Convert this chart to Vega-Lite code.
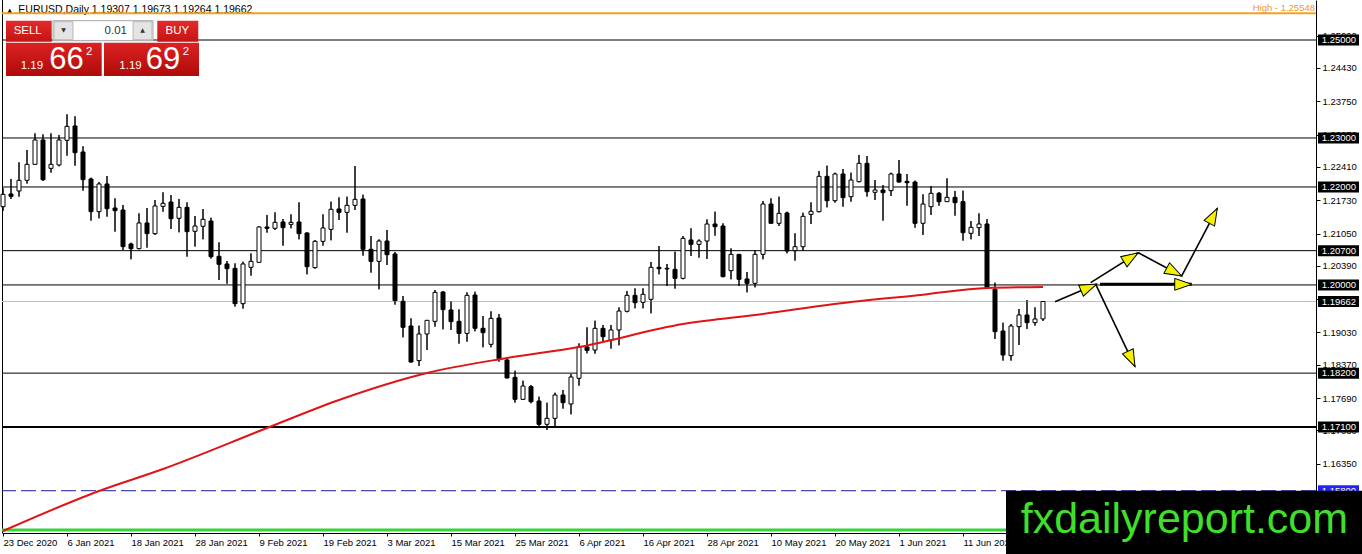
{
  "$schema": "https://vega.github.io/schema/vega-lite/v6.json",
  "width": 1314,
  "height": 533,
  "autosize": "none",
  "padding": {"left": 2, "top": 0, "right": 46, "bottom": 21},
  "background": "white",
  "config": {
    "view": {"stroke": null},
    "font": "Liberation Sans",
    "scale": {"continuousPadding": 0},
    "axis": {"labelOverlap": false, "labelFlush": false, "labelBound": false, "grid": false}
  },
  "datasets": {
    "candles": [
      {"i":0,"o":1.21598,"h":1.21972,"l":1.2151,"c":1.2185},
      {"i":1,"o":1.21857,"h":1.22163,"l":1.21755,"c":1.21809},
      {"i":2,"o":1.21918,"h":1.22503,"l":1.21802,"c":1.22136},
      {"i":3,"o":1.22136,"h":1.22755,"l":1.22068,"c":1.22462},
      {"i":4,"o":1.22462,"h":1.23095,"l":1.22449,"c":1.22959},
      {"i":5,"o":1.22959,"h":1.23074,"l":1.22122,"c":1.22149},
      {"i":6,"o":1.2238,"h":1.23095,"l":1.22292,"c":1.22462},
      {"i":7,"o":1.22449,"h":1.23061,"l":1.22421,"c":1.22959},
      {"i":8,"o":1.22952,"h":1.23483,"l":1.22639,"c":1.23238},
      {"i":9,"o":1.23245,"h":1.23442,"l":1.22435,"c":1.227},
      {"i":10,"o":1.22714,"h":1.2283,"l":1.21925,"c":1.22149},
      {"i":11,"o":1.22163,"h":1.2219,"l":1.21312,"c":1.21496},
      {"i":12,"o":1.21496,"h":1.22102,"l":1.2136,"c":1.22061},
      {"i":13,"o":1.22061,"h":1.22224,"l":1.21394,"c":1.21557},
      {"i":14,"o":1.21571,"h":1.21768,"l":1.21088,"c":1.21516},
      {"i":15,"o":1.2153,"h":1.21632,"l":1.20714,"c":1.20782},
      {"i":16,"o":1.20836,"h":1.20863,"l":1.20523,"c":1.20741},
      {"i":17,"o":1.20741,"h":1.21462,"l":1.20727,"c":1.21265},
      {"i":18,"o":1.21265,"h":1.21571,"l":1.20761,"c":1.21047},
      {"i":19,"o":1.21047,"h":1.21734,"l":1.2102,"c":1.21612},
      {"i":20,"o":1.21605,"h":1.21891,"l":1.21496,"c":1.21666},
      {"i":21,"o":1.21693,"h":1.21836,"l":1.21142,"c":1.21353},
      {"i":22,"o":1.2136,"h":1.21755,"l":1.21074,"c":1.21584},
      {"i":23,"o":1.21584,"h":1.21686,"l":1.20577,"c":1.21088},
      {"i":24,"o":1.21095,"h":1.21408,"l":1.20782,"c":1.21203},
      {"i":25,"o":1.21197,"h":1.2155,"l":1.20931,"c":1.21339},
      {"i":26,"o":1.21305,"h":1.21373,"l":1.20537,"c":1.20577},
      {"i":27,"o":1.20584,"h":1.2087,"l":1.20101,"c":1.20421},
      {"i":28,"o":1.20428,"h":1.20489,"l":1.20026,"c":1.20332},
      {"i":29,"o":1.20339,"h":1.20441,"l":1.19557,"c":1.19618},
      {"i":30,"o":1.19618,"h":1.20475,"l":1.19516,"c":1.20428},
      {"i":31,"o":1.2036,"h":1.20645,"l":1.2019,"c":1.20482},
      {"i":32,"o":1.20462,"h":1.21196,"l":1.20462,"c":1.21183},
      {"i":33,"o":1.21183,"h":1.21428,"l":1.21067,"c":1.21156},
      {"i":34,"o":1.21156,"h":1.21482,"l":1.21122,"c":1.21278},
      {"i":35,"o":1.21285,"h":1.21346,"l":1.20802,"c":1.21169},
      {"i":36,"o":1.21237,"h":1.21442,"l":1.21156,"c":1.21278},
      {"i":37,"o":1.21285,"h":1.21686,"l":1.20931,"c":1.21047},
      {"i":38,"o":1.21061,"h":1.21074,"l":1.20217,"c":1.20373},
      {"i":39,"o":1.20353,"h":1.20918,"l":1.20332,"c":1.2089},
      {"i":40,"o":1.2089,"h":1.21442,"l":1.20802,"c":1.21163},
      {"i":41,"o":1.21135,"h":1.217,"l":1.20911,"c":1.21544},
      {"i":42,"o":1.2155,"h":1.21789,"l":1.21326,"c":1.21482},
      {"i":43,"o":1.21482,"h":1.21802,"l":1.21067,"c":1.21625},
      {"i":44,"o":1.21625,"h":1.22428,"l":1.2153,"c":1.21748},
      {"i":45,"o":1.21754,"h":1.21843,"l":1.20598,"c":1.20727},
      {"i":46,"o":1.20727,"h":1.20999,"l":1.20251,"c":1.20482},
      {"i":47,"o":1.20482,"h":1.20931,"l":1.19911,"c":1.20897},
      {"i":48,"o":1.20897,"h":1.21122,"l":1.20407,"c":1.20618},
      {"i":49,"o":1.20632,"h":1.20673,"l":1.19598,"c":1.19679},
      {"i":50,"o":1.19666,"h":1.19775,"l":1.18931,"c":1.19135},
      {"i":51,"o":1.19162,"h":1.19319,"l":1.18414,"c":1.18427},
      {"i":52,"o":1.18455,"h":1.19169,"l":1.18346,"c":1.18999},
      {"i":53,"o":1.18999,"h":1.19285,"l":1.18672,"c":1.19278},
      {"i":54,"o":1.19257,"h":1.19897,"l":1.19149,"c":1.19849},
      {"i":55,"o":1.19856,"h":1.19877,"l":1.19094,"c":1.19496},
      {"i":56,"o":1.19489,"h":1.19666,"l":1.19081,"c":1.19251},
      {"i":57,"o":1.19257,"h":1.19502,"l":1.18802,"c":1.19012},
      {"i":58,"o":1.19012,"h":1.19849,"l":1.18842,"c":1.19788},
      {"i":59,"o":1.19795,"h":1.19863,"l":1.19053,"c":1.19115},
      {"i":60,"o":1.19115,"h":1.19366,"l":1.18727,"c":1.19026},
      {"i":61,"o":1.18788,"h":1.19462,"l":1.18727,"c":1.19319},
      {"i":62,"o":1.19325,"h":1.19407,"l":1.18434,"c":1.18495},
      {"i":63,"o":1.18468,"h":1.18523,"l":1.18094,"c":1.18101},
      {"i":64,"o":1.18114,"h":1.1825,"l":1.17597,"c":1.17665},
      {"i":65,"o":1.17665,"h":1.18046,"l":1.17652,"c":1.17937},
      {"i":66,"o":1.17924,"h":1.17958,"l":1.17584,"c":1.17618},
      {"i":67,"o":1.17631,"h":1.1772,"l":1.17121,"c":1.17155},
      {"i":68,"o":1.17155,"h":1.17597,"l":1.17039,"c":1.17277},
      {"i":69,"o":1.17277,"h":1.17801,"l":1.17107,"c":1.17754},
      {"i":70,"o":1.17754,"h":1.17856,"l":1.17475,"c":1.17597},
      {"i":71,"o":1.1757,"h":1.18182,"l":1.17359,"c":1.18121},
      {"i":72,"o":1.18094,"h":1.18808,"l":1.17944,"c":1.1874},
      {"i":73,"o":1.18734,"h":1.19135,"l":1.18604,"c":1.18665},
      {"i":74,"o":1.18672,"h":1.19271,"l":1.18597,"c":1.19114},
      {"i":75,"o":1.19114,"h":1.19183,"l":1.18836,"c":1.18944},
      {"i":76,"o":1.18876,"h":1.19183,"l":1.187,"c":1.19081},
      {"i":77,"o":1.19081,"h":1.19543,"l":1.18768,"c":1.19468},
      {"i":78,"o":1.19462,"h":1.19877,"l":1.19441,"c":1.19788},
      {"i":79,"o":1.19788,"h":1.19931,"l":1.19523,"c":1.19638},
      {"i":80,"o":1.19645,"h":1.19931,"l":1.19523,"c":1.19809},
      {"i":81,"o":1.19706,"h":1.20469,"l":1.19421,"c":1.2036},
      {"i":82,"o":1.2036,"h":1.20795,"l":1.20217,"c":1.20332},
      {"i":83,"o":1.20326,"h":1.20428,"l":1.19979,"c":1.20339},
      {"i":84,"o":1.20319,"h":1.20679,"l":1.19924,"c":1.20135},
      {"i":85,"o":1.20135,"h":1.20999,"l":1.20115,"c":1.20952},
      {"i":86,"o":1.20918,"h":1.21156,"l":1.20591,"c":1.20829},
      {"i":87,"o":1.20829,"h":1.20931,"l":1.20557,"c":1.20897},
      {"i":88,"o":1.20897,"h":1.21339,"l":1.2053,"c":1.21244},
      {"i":89,"o":1.21244,"h":1.21496,"l":1.21006,"c":1.2119},
      {"i":90,"o":1.21203,"h":1.21258,"l":1.20156,"c":1.20169},
      {"i":91,"o":1.20292,"h":1.20747,"l":1.20115,"c":1.20625},
      {"i":92,"o":1.20625,"h":1.20625,"l":1.19979,"c":1.20115},
      {"i":93,"o":1.20122,"h":1.20264,"l":1.19849,"c":1.20033},
      {"i":94,"o":1.20033,"h":1.20713,"l":1.19951,"c":1.20625},
      {"i":95,"o":1.20625,"h":1.21714,"l":1.20523,"c":1.21652},
      {"i":96,"o":1.21652,"h":1.21768,"l":1.21258,"c":1.21258},
      {"i":97,"o":1.21258,"h":1.21802,"l":1.21203,"c":1.21462},
      {"i":98,"o":1.21469,"h":1.21496,"l":1.20645,"c":1.20693},
      {"i":99,"o":1.207,"h":1.21054,"l":1.20496,"c":1.20781},
      {"i":100,"o":1.20781,"h":1.21475,"l":1.20693,"c":1.21401},
      {"i":101,"o":1.21441,"h":1.21686,"l":1.21244,"c":1.21503},
      {"i":102,"o":1.21496,"h":1.22326,"l":1.21482,"c":1.22217},
      {"i":103,"o":1.22217,"h":1.22435,"l":1.21584,"c":1.2172},
      {"i":104,"o":1.2172,"h":1.22292,"l":1.2168,"c":1.22265},
      {"i":105,"o":1.22265,"h":1.22367,"l":1.21598,"c":1.21782},
      {"i":106,"o":1.21802,"h":1.22292,"l":1.217,"c":1.22142},
      {"i":107,"o":1.22108,"h":1.22653,"l":1.22095,"c":1.22482},
      {"i":108,"o":1.22482,"h":1.22632,"l":1.21802,"c":1.21904},
      {"i":109,"o":1.21891,"h":1.22142,"l":1.21734,"c":1.21938},
      {"i":110,"o":1.21938,"h":1.2204,"l":1.21312,"c":1.21884},
      {"i":111,"o":1.21925,"h":1.22292,"l":1.21816,"c":1.22265},
      {"i":112,"o":1.22265,"h":1.22551,"l":1.22088,"c":1.22101},
      {"i":113,"o":1.22115,"h":1.22265,"l":1.21618,"c":1.22088},
      {"i":114,"o":1.22101,"h":1.22129,"l":1.21169,"c":1.21258},
      {"i":115,"o":1.21258,"h":1.2185,"l":1.2102,"c":1.21652},
      {"i":116,"o":1.21598,"h":1.2202,"l":1.21428,"c":1.2187},
      {"i":117,"o":1.2187,"h":1.21897,"l":1.21618,"c":1.217},
      {"i":118,"o":1.217,"h":1.22176,"l":1.217,"c":1.21788},
      {"i":119,"o":1.21788,"h":1.21918,"l":1.21414,"c":1.2168},
      {"i":120,"o":1.217,"h":1.21925,"l":1.20904,"c":1.21067},
      {"i":121,"o":1.21054,"h":1.21305,"l":1.20931,"c":1.21176},
      {"i":122,"o":1.21169,"h":1.21462,"l":1.20999,"c":1.21244},
      {"i":123,"o":1.21244,"h":1.21346,"l":1.19917,"c":1.19931},
      {"i":124,"o":1.19911,"h":1.20047,"l":1.18897,"c":1.19046},
      {"i":125,"o":1.1906,"h":1.1923,"l":1.18455,"c":1.1857},
      {"i":126,"o":1.18557,"h":1.19203,"l":1.18455,"c":1.19162},
      {"i":127,"o":1.19149,"h":1.19509,"l":1.18774,"c":1.19387},
      {"i":128,"o":1.19387,"h":1.19693,"l":1.19101,"c":1.1923},
      {"i":129,"o":1.1923,"h":1.19543,"l":1.19169,"c":1.19305},
      {"i":130,"o":1.19307,"h":1.19673,"l":1.19264,"c":1.19662}
    ],
    "ma": [
      {"i":0,"ma":1.14978},{"i":12,"ma":1.15794},{"i":20,"ma":1.16243},{"i":33,"ma":1.1708},
      {"i":42,"ma":1.17652},{"i":53,"ma":1.18203},{"i":63,"ma":1.18509},{"i":72,"ma":1.18734},
      {"i":85,"ma":1.19203},{"i":95,"ma":1.19409},{"i":105,"ma":1.19632},{"i":115,"ma":1.19801},
      {"i":123,"ma":1.19938},{"i":130,"ma":1.19958}
    ],
    "tags": [
      {"level":1.25,"label":"1.25000"},{"level":1.23,"label":"1.23000"},{"level":1.22,"label":"1.22000"},
      {"level":1.207,"label":"1.20700"},{"level":1.2,"label":"1.20000"},{"level":1.19662,"label":"1.19662"},
      {"level":1.182,"label":"1.18200"},{"level":1.171,"label":"1.17100"}
    ],
    "paths": [
      {"x1":131.5,"p1":1.19658,"x2":136.71,"p2":1.20019},
      {"x1":135.96,"p1":1.20046,"x2":141.91,"p2":1.20658},
      {"x1":141.91,"p1":1.20658,"x2":147.34,"p2":1.20183},
      {"x1":147.34,"p1":1.20183,"x2":151.79,"p2":1.21565},
      {"x1":136.59,"p1":1.20013,"x2":141.5,"p2":1.18331}
    ]
  },
  "layer": [
    {
      "data": {"name": "candles"},
      "mark": {"type": "rule", "color": "black", "strokeWidth": 1},
      "encoding": {
        "x": {
          "field": "i", "type": "quantitative",
          "scale": {"domain": [-0.125, 164.125], "nice": false, "zero": false, "padding": 0},
          "axis": {
            "title": null, "grid": false, "orient": "bottom", "tickCount": 40,
            "values": [0, 8, 16, 24, 32, 40, 48, 56, 64, 72, 80, 88, 96, 104, 112, 120],
            "labelExpr": "['23 Dec 2020','6 Jan 2021','18 Jan 2021','28 Jan 2021','9 Feb 2021','19 Feb 2021','3 Mar 2021','15 Mar 2021','25 Mar 2021','6 Apr 2021','16 Apr 2021','28 Apr 2021','10 May 2021','20 May 2021','1 Jun 2021','11 Jun 2021'][datum.value / 8]",
            "labelAlign": "left", "labelBaseline": "top", "labelPadding": 1,
            "labelFont": "Liberation Sans", "labelFontSize": 9.5, "labelColor": "black",
            "labelFlush": false, "labelOverlap": false, "labelBound": false,
            "tickSize": 3, "tickColor": "black", "domainColor": "black"
          }
        },
        "y": {
          "field": "l", "type": "quantitative",
          "scale": {"domain": [1.149367, 1.258165], "nice": false, "zero": false, "padding": 0},
          "axis": {
            "orient": "right", "title": null, "grid": false, "tickCount": 40,
            "values": [1.2509, 1.2443, 1.2375, 1.2307, 1.2241, 1.2173, 1.2105, 1.2039, 1.1971, 1.1903, 1.1837, 1.1769, 1.1703, 1.1635, 1.1567],
            "format": ".5f",
            "labelFont": "Liberation Sans", "labelFontSize": 9.5, "labelColor": "black",
            "labelPadding": 2, "labelOverlap": false, "labelFlush": false, "labelBound": false,
            "tickSize": 4, "tickColor": "black", "domainColor": "black"
          }
        },
        "y2": {"field": "h"}
      }
    },
    {
      "data": {"values": [{}]},
      "mark": {"type": "rule", "color": "black", "strokeWidth": 1},
      "encoding": {"x": {"datum": -0.0625, "type": "quantitative"}}
    },
    {
      "data": {"values": [{"level":1.25},{"level":1.23},{"level":1.22},{"level":1.207},{"level":1.2},{"level":1.182}]},
      "mark": {"type": "rule", "color": "black", "strokeWidth": 1},
      "encoding": {"y": {"field": "level", "type": "quantitative"}}
    },
    {
      "data": {"values": [{"level":1.171}]},
      "mark": {"type": "rule", "color": "black", "strokeWidth": 2},
      "encoding": {"y": {"field": "level", "type": "quantitative"}}
    },
    {
      "data": {"values": [{"level":1.19662}]},
      "mark": {"type": "rule", "color": "#c0c0c0", "strokeWidth": 1},
      "encoding": {"y": {"field": "level", "type": "quantitative"}}
    },
    {
      "data": {"values": [{"level":1.158}]},
      "mark": {"type": "rule", "color": "#1c1ca0", "strokeWidth": 1, "strokeDash": [15, 5]},
      "encoding": {"y": {"field": "level", "type": "quantitative"}}
    },
    {
      "data": {"values": [{"level":1.15}]},
      "mark": {"type": "rule", "color": "#36d436", "strokeWidth": 3},
      "encoding": {"y": {"field": "level", "type": "quantitative"}}
    },
    {
      "data": {"name": "candles"},
      "mark": {"type": "rule", "color": "black", "strokeWidth": 1},
      "encoding": {
        "x": {"field": "i", "type": "quantitative"},
        "y": {"field": "l", "type": "quantitative"},
        "y2": {"field": "h"}
      }
    },
    {
      "data": {"name": "candles"},
      "mark": {"type": "bar", "size": 4, "stroke": "black", "strokeWidth": 1},
      "encoding": {
        "x": {"field": "i", "type": "quantitative"},
        "y": {"field": "o", "type": "quantitative"},
        "y2": {"field": "c"},
        "fill": {"condition": {"test": "datum.c < datum.o", "value": "black"}, "value": "white"}
      }
    },
    {
      "data": {"name": "ma"},
      "mark": {"type": "line", "color": "#e01414", "strokeWidth": 2, "interpolate": "monotone"},
      "encoding": {
        "x": {"field": "i", "type": "quantitative"},
        "y": {"field": "ma", "type": "quantitative"}
      }
    },
    {
      "data": {"values": [{}]},
      "mark": {"type": "text", "text": "EURUSD,Daily  1.19307 1.19673 1.19264 1.19662", "align": "left", "baseline": "alphabetic", "fontSize": 10.5, "color": "black"},
      "encoding": {"x": {"datum": 1.9125}, "y": {"datum": 1.25545}}
    },
    {
      "data": {"values": [{}]},
      "mark": {"type": "text", "text": "▲", "font": "DejaVu Sans", "align": "center", "baseline": "middle", "fontSize": 7, "color": "black"},
      "encoding": {"x": {"datum": 0.8375}, "y": {"datum": 1.25592}}
    },
    {
      "data": {"values": [{"level":1.25548}]},
      "mark": {"type": "rule", "color": "#f2a124", "strokeWidth": 2},
      "encoding": {"y": {"field": "level", "type": "quantitative"}}
    },
    {
      "data": {"values": [{}]},
      "mark": {"type": "text", "text": "High - 1.25548", "align": "right", "baseline": "alphabetic", "fontSize": 9.5, "color": "#e89a2c"},
      "encoding": {"x": {"datum": 164.0}, "y": {"datum": 1.25602}}
    },
    {
      "data": {"name": "paths"},
      "mark": {"type": "rule", "color": "black", "strokeWidth": 1.6},
      "encoding": {
        "x": {"field": "x1", "type": "quantitative"},
        "x2": {"field": "x2"},
        "y": {"field": "p1", "type": "quantitative"},
        "y2": {"field": "p2"}
      }
    },
    {
      "data": {"values": [{"x1":137.13,"p1":1.20013,"x2":148.59,"p2":1.20013}]},
      "mark": {"type": "rule", "color": "black", "strokeWidth": 3},
      "encoding": {
        "x": {"field": "x1", "type": "quantitative"},
        "x2": {"field": "x2"},
        "y": {"field": "p1", "type": "quantitative"},
        "y2": {"field": "p2"}
      }
    },
    {
      "data": {"values": [{}]},
      "mark": {"type": "point", "shape": "M0,0L0.35,1L-0.35,1Z", "size": 1156, "filled": true, "fill": "#f4f000", "stroke": "black", "strokeWidth": 1, "opacity": 1, "angle": 67},
      "encoding": {"x": {"datum": 136.71}, "y": {"datum": 1.20019}}
    },
    {
      "data": {"values": [{}]},
      "mark": {"type": "point", "shape": "M0,0L0.35,1L-0.35,1Z", "size": 1156, "filled": true, "fill": "#f4f000", "stroke": "black", "strokeWidth": 1, "opacity": 1, "angle": 58},
      "encoding": {"x": {"datum": 141.91}, "y": {"datum": 1.20658}}
    },
    {
      "data": {"values": [{}]},
      "mark": {"type": "point", "shape": "M0,0L0.35,1L-0.35,1Z", "size": 1156, "filled": true, "fill": "#f4f000", "stroke": "black", "strokeWidth": 1, "opacity": 1, "angle": 118},
      "encoding": {"x": {"datum": 147.34}, "y": {"datum": 1.20183}}
    },
    {
      "data": {"values": [{}]},
      "mark": {"type": "point", "shape": "M0,0L0.35,1L-0.35,1Z", "size": 1156, "filled": true, "fill": "#f4f000", "stroke": "black", "strokeWidth": 1, "opacity": 1, "angle": 28},
      "encoding": {"x": {"datum": 151.79}, "y": {"datum": 1.21565}}
    },
    {
      "data": {"values": [{}]},
      "mark": {"type": "point", "shape": "M0,0L0.35,1L-0.35,1Z", "size": 1156, "filled": true, "fill": "#f4f000", "stroke": "black", "strokeWidth": 1, "opacity": 1, "angle": 90},
      "encoding": {"x": {"datum": 148.59}, "y": {"datum": 1.20013}}
    },
    {
      "data": {"values": [{}]},
      "mark": {"type": "point", "shape": "M0,0L0.35,1L-0.35,1Z", "size": 1156, "filled": true, "fill": "#f4f000", "stroke": "black", "strokeWidth": 1, "opacity": 1, "angle": 155},
      "encoding": {"x": {"datum": 141.5}, "y": {"datum": 1.18331}}
    },
    {
      "data": {"values": [{}]},
      "mark": {"type": "rect", "fill": {"gradient": "linear", "x1": 0, "y1": 0, "x2": 0, "y2": 1, "stops": [{"offset": 0, "color": "#e42a2a"}, {"offset": 1, "color": "#c41414"}]}},
      "encoding": {"x": {"datum": 0.375}, "x2": {"datum": 6.0875}, "y": {"datum": 1.25394}, "y2": {"datum": 1.249653}}
    },
    {
      "data": {"values": [{}]},
      "mark": {"type": "rect", "fill": {"gradient": "linear", "x1": 0, "y1": 0, "x2": 0, "y2": 1, "stops": [{"offset": 0, "color": "#e42a2a"}, {"offset": 1, "color": "#c41414"}]}},
      "encoding": {"x": {"datum": 19.2875}, "x2": {"datum": 24.4125}, "y": {"datum": 1.25394}, "y2": {"datum": 1.249653}}
    },
    {
      "data": {"values": [{}]},
      "mark": {"type": "rect", "fill": {"gradient": "linear", "x1": 0, "y1": 0, "x2": 0, "y2": 1, "stops": [{"offset": 0, "color": "#dc2222"}, {"offset": 1, "color": "#b00a0a"}]}},
      "encoding": {"x": {"datum": 0.375}, "x2": {"datum": 12.3375}, "y": {"datum": 1.249449}, "y2": {"datum": 1.242652}}
    },
    {
      "data": {"values": [{}]},
      "mark": {"type": "rect", "fill": {"gradient": "linear", "x1": 0, "y1": 0, "x2": 0, "y2": 1, "stops": [{"offset": 0, "color": "#dc2222"}, {"offset": 1, "color": "#b00a0a"}]}},
      "encoding": {"x": {"datum": 12.625}, "x2": {"datum": 24.5}, "y": {"datum": 1.249449}, "y2": {"datum": 1.242652}}
    },
    {
      "data": {"values": [{}]},
      "mark": {"type": "rect", "fill": "white", "stroke": "#a8a8a8", "strokeWidth": 1},
      "encoding": {"x": {"datum": 6.25}, "x2": {"datum": 18.75}, "y": {"datum": 1.25394}, "y2": {"datum": 1.249857}}
    },
    {
      "data": {"values": [{}]},
      "mark": {"type": "rect", "fill": "#e4e4e4", "stroke": "#b8b8b8", "strokeWidth": 1},
      "encoding": {"x": {"datum": 6.375}, "x2": {"datum": 8.75}, "y": {"datum": 1.253735}, "y2": {"datum": 1.250061}}
    },
    {
      "data": {"values": [{}]},
      "mark": {"type": "rect", "fill": "#e4e4e4", "stroke": "#b8b8b8", "strokeWidth": 1},
      "encoding": {"x": {"datum": 16.25}, "x2": {"datum": 18.625}, "y": {"datum": 1.253735}, "y2": {"datum": 1.250061}}
    },
    {
      "data": {"values": [{}]},
      "mark": {"type": "text", "text": "▼", "font": "DejaVu Sans", "align": "center", "baseline": "middle", "fontSize": 6, "color": "#333333"},
      "encoding": {"x": {"datum": 7.5625}, "y": {"datum": 1.252041}}
    },
    {
      "data": {"values": [{}]},
      "mark": {"type": "text", "text": "▲", "font": "DejaVu Sans", "align": "center", "baseline": "middle", "fontSize": 6, "color": "#333333"},
      "encoding": {"x": {"datum": 17.4375}, "y": {"datum": 1.252041}}
    },
    {
      "data": {"values": [{}]},
      "mark": {"type": "text", "text": "0.01", "align": "right", "baseline": "middle", "fontSize": 11.5, "color": "#333333"},
      "encoding": {"x": {"datum": 15.5}, "y": {"datum": 1.251939}}
    },
    {
      "data": {"values": [{}]},
      "mark": {"type": "text", "text": "SELL", "align": "center", "baseline": "middle", "fontSize": 11.5, "color": "white"},
      "encoding": {"x": {"datum": 3.0875}, "y": {"datum": 1.251837}}
    },
    {
      "data": {"values": [{}]},
      "mark": {"type": "text", "text": "BUY", "align": "center", "baseline": "middle", "fontSize": 11.5, "color": "white"},
      "encoding": {"x": {"datum": 21.8}, "y": {"datum": 1.251837}}
    },
    {
      "data": {"values": [{}]},
      "mark": {"type": "text", "text": "1.19", "align": "left", "baseline": "alphabetic", "fontSize": 11.5, "color": "white"},
      "encoding": {"x": {"datum": 2.2125}, "y": {"datum": 1.244019}}
    },
    {
      "data": {"values": [{}]},
      "mark": {"type": "text", "text": "66", "align": "left", "baseline": "alphabetic", "fontSize": 31, "color": "white"},
      "encoding": {"x": {"datum": 5.7875}, "y": {"datum": 1.244019}}
    },
    {
      "data": {"values": [{}]},
      "mark": {"type": "text", "text": "2", "align": "left", "baseline": "alphabetic", "fontSize": 11.5, "color": "white"},
      "encoding": {"x": {"datum": 10.375}, "y": {"datum": 1.246938}}
    },
    {
      "data": {"values": [{}]},
      "mark": {"type": "text", "text": "1.19", "align": "left", "baseline": "alphabetic", "fontSize": 11.5, "color": "white"},
      "encoding": {"x": {"datum": 14.5375}, "y": {"datum": 1.244019}}
    },
    {
      "data": {"values": [{}]},
      "mark": {"type": "text", "text": "69", "align": "left", "baseline": "alphabetic", "fontSize": 31, "color": "white"},
      "encoding": {"x": {"datum": 17.8375}, "y": {"datum": 1.244019}}
    },
    {
      "data": {"values": [{}]},
      "mark": {"type": "text", "text": "2", "align": "left", "baseline": "alphabetic", "fontSize": 11.5, "color": "white"},
      "encoding": {"x": {"datum": 22.4625}, "y": {"datum": 1.246938}}
    },
    {
      "data": {"name": "tags"},
      "mark": {"type": "bar", "orient": "horizontal", "size": 11, "fill": "black", "clip": false},
      "encoding": {
        "x": {"datum": 164.375},
        "x2": {"datum": 169.5},
        "y": {"field": "level", "type": "quantitative"}
      }
    },
    {
      "data": {"name": "tags"},
      "mark": {"type": "text", "align": "left", "baseline": "middle", "fontSize": 9.5, "color": "white", "clip": false},
      "encoding": {
        "x": {"datum": 164.84},
        "y": {"field": "level", "type": "quantitative"},
        "text": {"field": "label"}
      }
    },
    {
      "data": {"values": [{"level":1.158,"label":"1.15800"}]},
      "mark": {"type": "bar", "orient": "horizontal", "size": 11, "fill": "#2424f0", "clip": false},
      "encoding": {
        "x": {"datum": 164.375},
        "x2": {"datum": 169.5},
        "y": {"field": "level", "type": "quantitative"}
      }
    },
    {
      "data": {"values": [{"level":1.158,"label":"1.15800"}]},
      "mark": {"type": "text", "align": "left", "baseline": "middle", "fontSize": 9.5, "color": "white", "clip": false},
      "encoding": {
        "x": {"datum": 164.84},
        "y": {"field": "level", "type": "quantitative"},
        "text": {"field": "label"}
      }
    },
    {
      "data": {"values": [{}]},
      "mark": {"type": "rect", "fill": "black", "clip": false},
      "encoding": {"x": {"datum": 125.375}, "x2": {"datum": 170}, "y": {"datum": 1.158}, "y2": {"datum": 1.145}}
    },
    {
      "data": {"values": [{}]},
      "mark": {"type": "text", "text": "fxdailyreport.com", "align": "left", "baseline": "alphabetic", "font": "Liberation Sans", "fontSize": 43, "color": "#3fdf2b", "clip": false},
      "encoding": {"x": {"datum": 127.21}, "y": {"datum": 1.149428}}
    }
  ]
}
